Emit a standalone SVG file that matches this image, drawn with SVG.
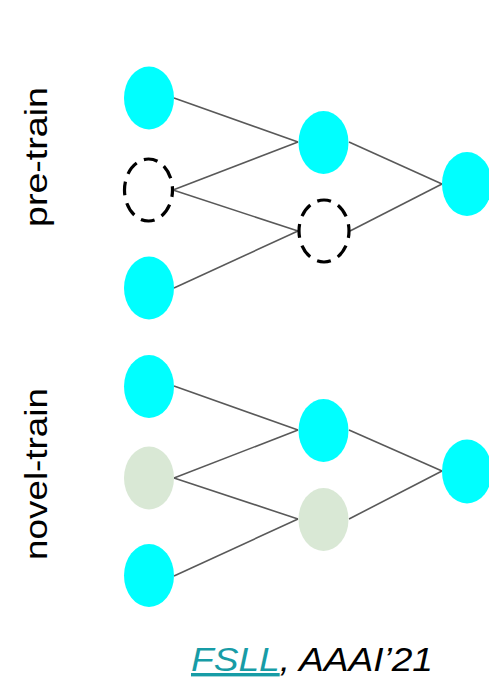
<svg xmlns="http://www.w3.org/2000/svg" width="489" height="681" viewBox="0 0 489 681">
  <style>
    .link { stroke: #595959; stroke-width: 1.6; fill: none; }
    .on { fill: #00FFFF; }
    .off { fill: none; stroke: #000000; stroke-width: 3.2; stroke-dasharray: 14 8; stroke-dashoffset: 7; }
    .new { fill: #D9E8D5; }
    .label { font-family: "Liberation Sans", Arial, sans-serif; font-size: 32px; fill: #000000; }
    .cite { font-family: "Liberation Sans", Arial, sans-serif; font-size: 34px; font-style: italic; fill: #000000; }
  </style>
  <rect width="489" height="681" fill="#FFFFFF"/>

  <!-- connectors -->
  <g id="connectors">
    <!-- pre-train network -->
    <line class="link" x1="174" y1="98" x2="298" y2="142"/>
    <line class="link" x1="173" y1="190" x2="298" y2="142"/>
    <line class="link" x1="173" y1="190" x2="298" y2="231"/>
    <line class="link" x1="174" y1="288" x2="298" y2="231"/>
    <line class="link" x1="349" y1="142" x2="442" y2="184"/>
    <line class="link" x1="350" y1="231" x2="442" y2="184"/>
    <!-- novel-train network -->
    <line class="link" x1="174" y1="386" x2="298" y2="430"/>
    <line class="link" x1="174" y1="478" x2="298" y2="430"/>
    <line class="link" x1="174" y1="478" x2="298" y2="519"/>
    <line class="link" x1="174" y1="576" x2="298" y2="519"/>
    <line class="link" x1="349" y1="430" x2="442" y2="471"/>
    <line class="link" x1="349" y1="519" x2="442" y2="471"/>
  </g>

  <!-- pre-train nodes -->
  <g id="pre-in-1"><ellipse class="on" cx="149" cy="98" rx="25" ry="31.5"/></g>
  <g id="pre-in-2"><ellipse class="off" cx="148.5" cy="190" rx="24" ry="31"/></g>
  <g id="pre-in-3"><ellipse class="on" cx="149" cy="288" rx="25" ry="31.5"/></g>
  <g id="pre-hid-1"><ellipse class="on" cx="323.5" cy="142.5" rx="25" ry="31.5"/></g>
  <g id="pre-hid-2"><ellipse class="off" cx="324" cy="231" rx="25" ry="31"/></g>
  <g id="pre-out"><ellipse class="on" cx="467" cy="184" rx="25" ry="32"/></g>

  <!-- novel-train nodes -->
  <g id="novel-in-1"><ellipse class="on" cx="149" cy="386.5" rx="25" ry="31.5"/></g>
  <g id="novel-in-2"><ellipse class="new" cx="149" cy="478" rx="25" ry="31.5"/></g>
  <g id="novel-in-3"><ellipse class="on" cx="149" cy="575.5" rx="25" ry="31.5"/></g>
  <g id="novel-hid-1"><ellipse class="on" cx="323.5" cy="430.5" rx="25" ry="31.5"/></g>
  <g id="novel-hid-2"><ellipse class="new" cx="323.5" cy="519.5" rx="25" ry="31.5"/></g>
  <g id="novel-out"><ellipse class="on" cx="467" cy="471.5" rx="25" ry="32"/></g>

  <!-- stage labels -->
  <g id="label-pre">
    <text class="label" transform="translate(47,157) rotate(-90)" text-anchor="middle" textLength="140" lengthAdjust="spacingAndGlyphs">pre-train</text>
  </g>
  <g id="label-novel">
    <text class="label" transform="translate(47,474) rotate(-90)" text-anchor="middle" textLength="172" lengthAdjust="spacingAndGlyphs">novel-train</text>
  </g>

  <!-- citation -->
  <g id="citation">
    <text class="cite" x="191" y="671" textLength="242" lengthAdjust="spacingAndGlyphs"><tspan fill="#179CA6" text-decoration="underline">FSLL</tspan>, AAAI’21</text>
  </g>
</svg>
